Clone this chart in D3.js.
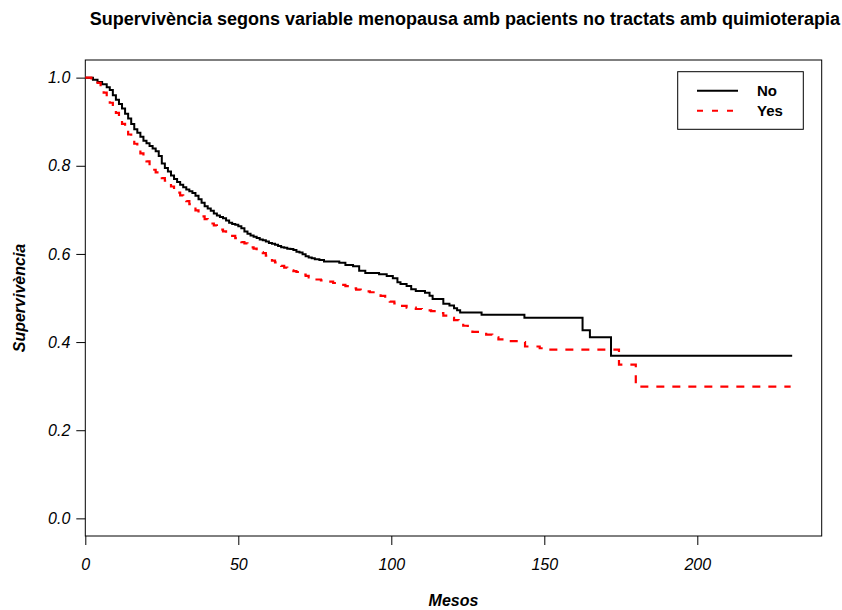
<!DOCTYPE html>
<html><head><meta charset="utf-8">
<script src="https://cdn.jsdelivr.net/npm/d3@7"></script>
<style>body{margin:0;background:#fff}svg{display:block}text{font-family:"Liberation Sans",Arial,sans-serif}</style>
</head><body><svg id="c" width="842" height="610"></svg>
<script>
const title = "Supervivència segons variable menopausa amb pacients no tractats amb quimioterapia";
const xLabel = "Mesos";
const yLabel = "Supervivència";
const seriesNames = ["No", "Yes"];
const seriesColors = ["#000000", "#ff0000"];
const xTicks = [0, 50, 100, 150, 200];
const yTicks = [0.0, 0.2, 0.4, 0.6, 0.8, 1.0];

const timesNo = [0,2.5,4,5.5,7,8,9,10,11,12,13,14,15,16,17,18,19,20,21,22,23,24,25,26,27,28,29,30,31,32,33,34,35,36,37,38,39,40,41,42,43,44,45,46,47,48,49,50,51,52,53,54,55,56,57,58,59,60,61,62,63,64,65,66,67,68,69,70,71,72,73,74,75,76.5,78,83,85,87.5,89.5,91.5,96,98.5,100.5,102,103,105,106.5,108,111,112.5,113.5,117,119,120.5,121.5,122.5,129.5,143.5,162.5,164.9,171.8,231];
const survNo = [1,0.995,0.99,0.985,0.978,0.972,0.96,0.95,0.94,0.93,0.918,0.907,0.895,0.883,0.875,0.866,0.857,0.851,0.845,0.839,0.833,0.822,0.805,0.795,0.787,0.778,0.77,0.763,0.757,0.751,0.746,0.742,0.738,0.732,0.724,0.716,0.708,0.703,0.698,0.692,0.687,0.684,0.681,0.676,0.671,0.668,0.666,0.663,0.658,0.651,0.646,0.642,0.639,0.636,0.633,0.631,0.628,0.625,0.623,0.621,0.618,0.615,0.614,0.612,0.611,0.609,0.605,0.603,0.599,0.595,0.592,0.59,0.588,0.586,0.583,0.58,0.575,0.572,0.562,0.557,0.554,0.55,0.545,0.536,0.532,0.527,0.52,0.516,0.512,0.505,0.498,0.487,0.483,0.477,0.472,0.467,0.462,0.455,0.427,0.411,0.369,0.369];

const timesYes = [0,2,3,4,5,6,7,8,9,10,11,12,13,14,15,16,17,18,19,20,21,22,23,24,25,26,27,28,29,30,31,32,33,34,35,36,37,38,39,40,41,42,43,44,45,46,47,48,49,50,51,52,53,54,55,56,57,58,59,60,61,62,63,64,65,66,67,68,69,70,71,72,73,74,75,77,79,81,83,85,87,88.5,90,93,95,96.5,98,99.5,101,103,105,108,110,113,115,117,119,120.5,122,123.5,125,126.5,131,133,135,138.5,142,143.7,148.5,152,174.4,179.9,230.5];
const survYes = [1,0.998,0.994,0.988,0.978,0.966,0.955,0.943,0.932,0.92,0.907,0.895,0.883,0.871,0.86,0.85,0.838,0.828,0.818,0.81,0.8,0.791,0.785,0.778,0.772,0.766,0.76,0.753,0.746,0.739,0.733,0.726,0.72,0.713,0.706,0.699,0.692,0.685,0.679,0.674,0.669,0.665,0.66,0.655,0.651,0.647,0.644,0.641,0.636,0.631,0.627,0.624,0.62,0.615,0.612,0.607,0.604,0.602,0.596,0.59,0.585,0.581,0.577,0.573,0.569,0.566,0.563,0.561,0.559,0.556,0.553,0.55,0.547,0.545,0.542,0.54,0.537,0.534,0.53,0.527,0.522,0.519,0.515,0.513,0.509,0.505,0.499,0.492,0.488,0.482,0.478,0.475,0.472,0.47,0.466,0.46,0.455,0.45,0.444,0.437,0.43,0.423,0.417,0.411,0.406,0.402,0.4,0.39,0.386,0.383,0.349,0.299,0.299];

const svg = d3.select("#c");
const L = 85.3, R = 821.7, T = 60, B = 536;
const x = d3.scaleLinear().domain([0, 240.65]).range([L, R]);
const y = d3.scaleLinear().domain([-0.04, 1.04]).range([B, T]);

svg.append("rect").attr("x", L).attr("y", T).attr("width", R - L).attr("height", B - T)
  .attr("fill", "none").attr("stroke", "#000").attr("stroke-width", 1);

const xa = svg.append("g").attr("transform", `translate(0,${B})`)
  .call(d3.axisBottom(x).tickValues(xTicks).tickSize(9).tickPadding(14).tickFormat(d3.format("d")));
const ya = svg.append("g").attr("transform", `translate(${L},0)`)
  .call(d3.axisLeft(y).tickValues(yTicks).tickSize(9).tickPadding(6).tickFormat(d3.format(".1f")));
[xa, ya].forEach(g => {
  g.select(".domain").remove();
  g.selectAll("line").attr("stroke", "#000");
  g.selectAll("text").attr("font-size", 16).attr("font-style", "italic").attr("fill", "#000")
    .attr("font-family", '"Liberation Sans",Arial,sans-serif');
});

const line = d3.line().x(d => x(d[0])).y(d => y(d[1])).curve(d3.curveStepAfter);
const dataNo = timesNo.map((t, i) => [t, survNo[i]]);
const dataYes = timesYes.map((t, i) => [t, survYes[i]]);

svg.append("path").datum(dataNo).attr("d", line).attr("fill", "none")
  .attr("stroke", seriesColors[0]).attr("stroke-width", 2);
svg.append("path").datum(dataYes).attr("d", line).attr("fill", "none")
  .attr("stroke", seriesColors[1]).attr("stroke-width", 2.2).attr("stroke-dasharray", "8,8");

svg.append("text").attr("x", 465).attr("y", 25).attr("text-anchor", "middle")
  .attr("font-size", 18).attr("font-weight", "bold").text(title);
svg.append("text").attr("x", (L + R) / 2).attr("y", 606).attr("text-anchor", "middle")
  .attr("font-size", 16).attr("font-weight", "bold").attr("font-style", "italic").text(xLabel);
svg.append("text").attr("transform", `translate(25,${(T + B) / 2}) rotate(-90)`).attr("text-anchor", "middle")
  .attr("font-size", 16).attr("font-weight", "bold").attr("font-style", "italic").text(yLabel);

// legend
const lg = svg.append("g");
lg.append("rect").attr("x", 677.7).attr("y", 71.7).attr("width", 125.6).attr("height", 57.6)
  .attr("fill", "#fff").attr("stroke", "#000").attr("stroke-width", 1);
seriesNames.forEach((n, i) => {
  const yy = 90.7 + i * 20;
  lg.append("line").attr("x1", 697).attr("x2", 738).attr("y1", yy).attr("y2", yy)
    .attr("stroke", seriesColors[i]).attr("stroke-width", 2)
    .attr("stroke-dasharray", i === 1 ? "6,9" : null);
  lg.append("text").attr("x", 757).attr("y", yy + 5.5).attr("font-size", 15).attr("font-weight", "bold").text(n);
});
</script></body></html>
